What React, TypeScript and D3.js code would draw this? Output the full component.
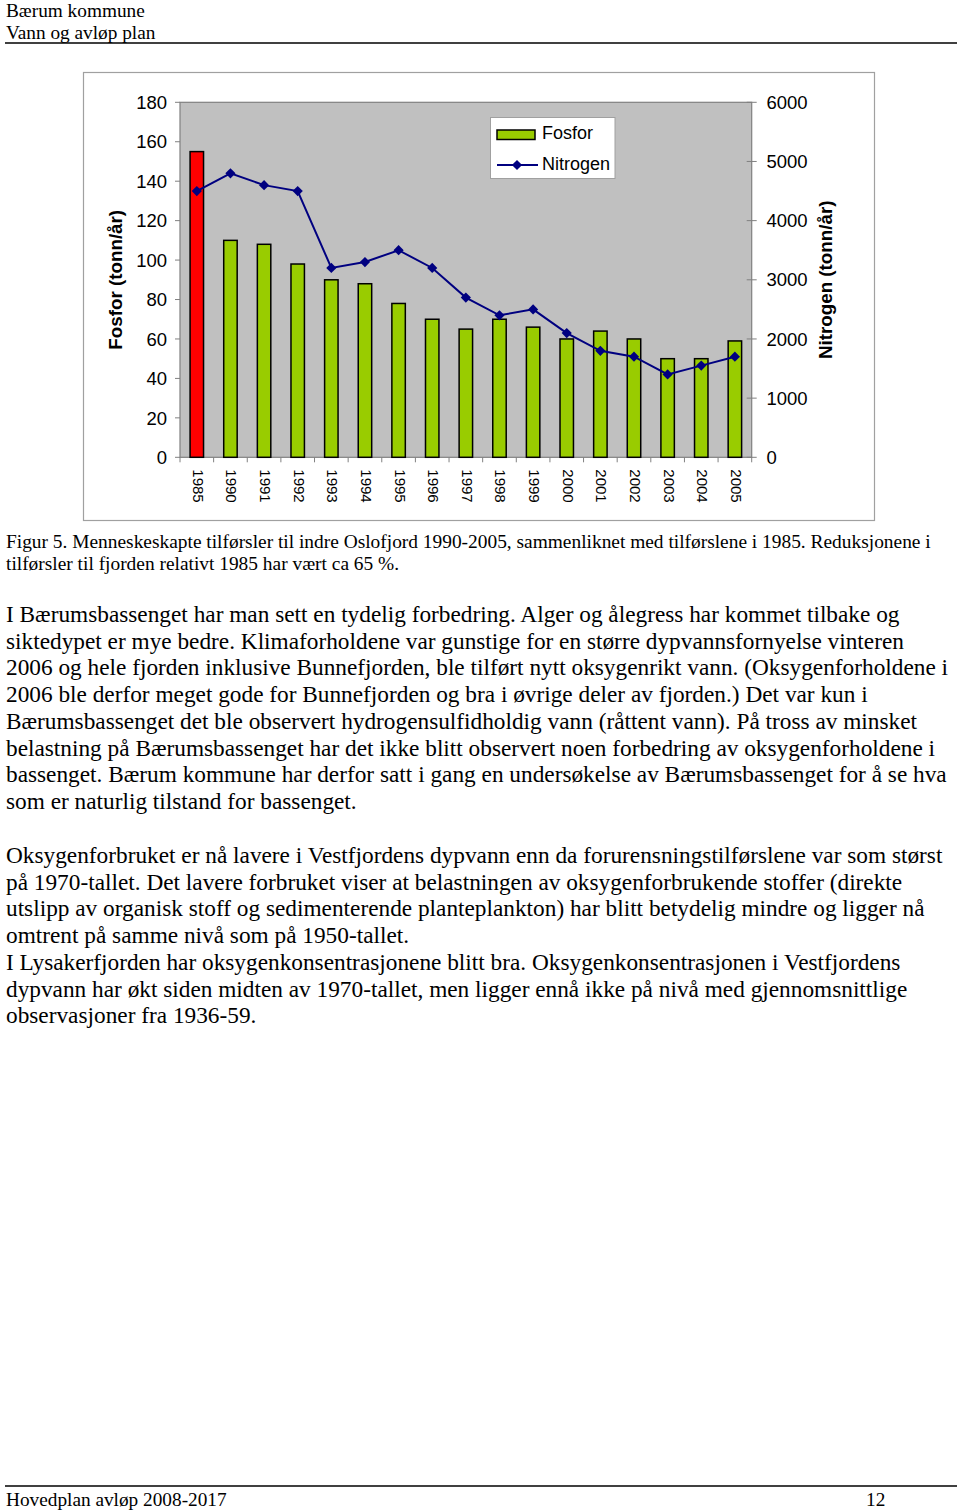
import React, { useEffect, useRef } from "react";
import * as d3 from "d3";

const years = ["1985","1990","1991","1992","1993","1994","1995","1996","1997","1998","1999","2000","2001","2002","2003","2004","2005"];
const fosfor = [155,110,108,98,90,88,78,70,65,70,66,60,64,60,50,50,59];
const nitrogen = [4500,4800,4600,4500,3200,3300,3500,3200,2700,2400,2500,2100,1800,1700,1400,1550,1700];
const leftTicks = [0,20,40,60,80,100,120,140,160,180];
const rightTicks = [0,1000,2000,3000,4000,5000,6000];

const headerLines = ["Bærum kommune", "Vann og avløp plan"];
const captionLines = [
  "Figur 5. Menneskeskapte tilførsler til indre Oslofjord 1990-2005, sammenliknet med tilførslene i 1985. Reduksjonene i",
  "tilførsler til fjorden relativt 1985 har vært ca 65 %.",
];
const para1 = [
  "I Bærumsbassenget har man sett en tydelig forbedring. Alger og ålegress har kommet tilbake og",
  "siktedypet er mye bedre. Klimaforholdene var gunstige for en større dypvannsfornyelse vinteren",
  "2006 og hele fjorden inklusive Bunnefjorden, ble tilført nytt oksygenrikt vann. (Oksygenforholdene i",
  "2006 ble derfor meget gode for Bunnefjorden og bra i øvrige deler av fjorden.) Det var kun i",
  "Bærumsbassenget det ble observert hydrogensulfidholdig vann (råttent vann). På tross av minsket",
  "belastning på Bærumsbassenget har det ikke blitt observert noen forbedring av oksygenforholdene i",
  "bassenget. Bærum kommune har derfor satt i gang en undersøkelse av Bærumsbassenget for å se hva",
  "som er naturlig tilstand for bassenget.",
];
const para2 = [
  "Oksygenforbruket er nå lavere i Vestfjordens dypvann enn da forurensningstilførslene var som størst",
  "på 1970-tallet. Det lavere forbruket viser at belastningen av oksygenforbrukende stoffer (direkte",
  "utslipp av organisk stoff og sedimenterende planteplankton) har blitt betydelig mindre og ligger nå",
  "omtrent på samme nivå som på 1950-tallet.",
  "I Lysakerfjorden har oksygenkonsentrasjonene blitt bra. Oksygenkonsentrasjonen i Vestfjordens",
  "dypvann har økt siden midten av 1970-tallet, men ligger ennå ikke på nivå med gjennomsnittlige",
  "observasjoner fra 1936-59.",
];
const footerLeft = "Hovedplan avløp 2008-2017";
const footerRight = "12";

export default function App() {
  const ref = useRef<SVGSVGElement>(null);
  useEffect(() => {
    const svg = d3.select(ref.current);
    svg.selectAll("*").remove();
    const serif = "'Liberation Serif', 'Times New Roman', serif";
    const sans = "'Liberation Sans', Arial, sans-serif";

    // header
    svg.selectAll("text.hdr").data(headerLines).join("text")
      .attr("class", "hdr").attr("x", 6).attr("y", (_, i) => 16.5 + i * 22)
      .attr("font-family", serif).attr("font-size", 19.3).attr("fill", "#000").text(d => d);
    svg.append("line").attr("x1", 5).attr("x2", 957).attr("y1", 43).attr("y2", 43)
      .attr("stroke", "#000").attr("stroke-width", 1.5);

    // chart frame
    svg.append("rect").attr("x", 83.5).attr("y", 72.5).attr("width", 791).attr("height", 448)
      .attr("fill", "#fff").attr("stroke", "#a0a0a0").attr("stroke-width", 1.2);

    const L = 180, R = 751.7, T = 102.3, B = 457.3;
    const x = d3.scaleBand().domain(years).range([L, R]).paddingInner(0.6).paddingOuter(0.3);
    const step = (R - L) / years.length;
    const yL = d3.scaleLinear().domain([0, 180]).range([B, T]);
    const yR = d3.scaleLinear().domain([0, 6000]).range([B, T]);

    svg.append("rect").attr("x", L).attr("y", T).attr("width", R - L).attr("height", B - T)
      .attr("fill", "#c0c0c0").attr("stroke", "#808080").attr("stroke-width", 1.2);

    // left axis
    const gL = svg.append("g");
    leftTicks.forEach(t => {
      gL.append("line").attr("x1", L - 5).attr("x2", L).attr("y1", yL(t)).attr("y2", yL(t)).attr("stroke", "#808080");
      gL.append("text").attr("x", 167).attr("y", yL(t)).attr("dy", "0.36em").attr("text-anchor", "end")
        .attr("font-family", sans).attr("font-size", 18.5).text(String(t));
    });
    // right axis
    rightTicks.forEach(t => {
      gL.append("line").attr("x1", R - 5).attr("x2", R + 5).attr("y1", yR(t)).attr("y2", yR(t)).attr("stroke", "#808080");
      gL.append("text").attr("x", 766.5).attr("y", yR(t)).attr("dy", "0.36em").attr("text-anchor", "start")
        .attr("font-family", sans).attr("font-size", 18.5).text(String(t));
    });
    // x ticks at category boundaries
    d3.range(years.length + 1).forEach(i => {
      const xx = L + i * step;
      gL.append("line").attr("x1", xx).attr("x2", xx).attr("y1", B).attr("y2", B + 5).attr("stroke", "#808080");
    });
    years.forEach(yr => {
      const cx = (x(yr) as number) + x.bandwidth() / 2 + 1.5;
      gL.append("text").attr("transform", `translate(${cx},${B + 12}) rotate(90)`)
        .attr("dominant-baseline", "central").attr("font-family", sans).attr("font-size", 15).text(yr);
    });

    // axis titles
    svg.append("text").attr("transform", `translate(122,${(T + B) / 2}) rotate(-90)`)
      .attr("text-anchor", "middle").attr("font-family", sans).attr("font-weight", "bold")
      .attr("font-size", 18.8).text("Fosfor (tonn/år)");
    svg.append("text").attr("transform", `translate(832,${(T + B) / 2}) rotate(-90)`)
      .attr("text-anchor", "middle").attr("font-family", sans).attr("font-weight", "bold")
      .attr("font-size", 18.8).text("Nitrogen (tonn/år)");

    // bars
    svg.selectAll("rect.bar").data(years).join("rect").attr("class", "bar")
      .attr("x", d => x(d) as number).attr("width", x.bandwidth())
      .attr("y", (_, i) => yL(fosfor[i])).attr("height", (_, i) => B - yL(fosfor[i]))
      .attr("fill", (_, i) => (i === 0 ? "#ff0000" : "#99cc00"))
      .attr("stroke", "#000").attr("stroke-width", 1.5);

    // line
    const line = d3.line<number>().x((_, i) => (x(years[i]) as number) + x.bandwidth() / 2).y(d => yR(d));
    svg.append("path").attr("d", line(nitrogen)).attr("fill", "none").attr("stroke", "#000080").attr("stroke-width", 2);
    const sym = d3.symbol().type(d3.symbolSquare).size(52);
    svg.selectAll("path.mk").data(nitrogen).join("path").attr("class", "mk")
      .attr("d", sym() as string)
      .attr("transform", (d, i) => `translate(${(x(years[i]) as number) + x.bandwidth() / 2},${yR(d)}) rotate(45)`)
      .attr("fill", "#000080");

    // legend
    const lg = svg.append("g");
    lg.append("rect").attr("x", 490.5).attr("y", 117.5).attr("width", 124.5).attr("height", 61)
      .attr("fill", "#fff").attr("stroke", "#a0a0a0");
    lg.append("rect").attr("x", 497).attr("y", 130).attr("width", 38).attr("height", 9.5)
      .attr("fill", "#99cc00").attr("stroke", "#000").attr("stroke-width", 1.5);
    lg.append("text").attr("x", 542).attr("y", 139).attr("font-family", sans).attr("font-size", 18).text("Fosfor");
    lg.append("line").attr("x1", 497).attr("x2", 538).attr("y1", 165).attr("y2", 165).attr("stroke", "#000080").attr("stroke-width", 2);
    lg.append("path").attr("d", sym() as string).attr("transform", "translate(517,165) rotate(45)").attr("fill", "#000080");
    lg.append("text").attr("x", 542).attr("y", 170).attr("font-family", sans).attr("font-size", 18).text("Nitrogen");

    // caption
    svg.selectAll("text.cap").data(captionLines).join("text").attr("class", "cap")
      .attr("x", 6).attr("y", (_, i) => 548 + i * 22)
      .attr("font-family", serif).attr("font-size", 19.4).text(d => d);
    svg.selectAll("text.p1").data(para1).join("text").attr("class", "p1")
      .attr("x", 6).attr("y", (_, i) => 622 + i * 26.7)
      .attr("font-family", serif).attr("font-size", 23.3).text(d => d);
    svg.selectAll("text.p2").data(para2).join("text").attr("class", "p2")
      .attr("x", 6).attr("y", (_, i) => 863 + i * 26.7)
      .attr("font-family", serif).attr("font-size", 23.3).text(d => d);

    // footer
    svg.append("line").attr("x1", 5).attr("x2", 957).attr("y1", 1486).attr("y2", 1486)
      .attr("stroke", "#000").attr("stroke-width", 1.5);
    svg.append("text").attr("x", 6).attr("y", 1506).attr("font-family", serif).attr("font-size", 19.3).text(footerLeft);
    svg.append("text").attr("x", 866).attr("y", 1506).attr("font-family", serif).attr("font-size", 19.3).text(footerRight);
  }, []);

  return (
    <div style={{ position: "absolute", left: 0, top: 0, width: 960, height: 1511, overflow: "hidden" }}>
      <svg ref={ref} width={960} height={1511} style={{ display: "block", background: "#fff" }} />
    </div>
  );
}
